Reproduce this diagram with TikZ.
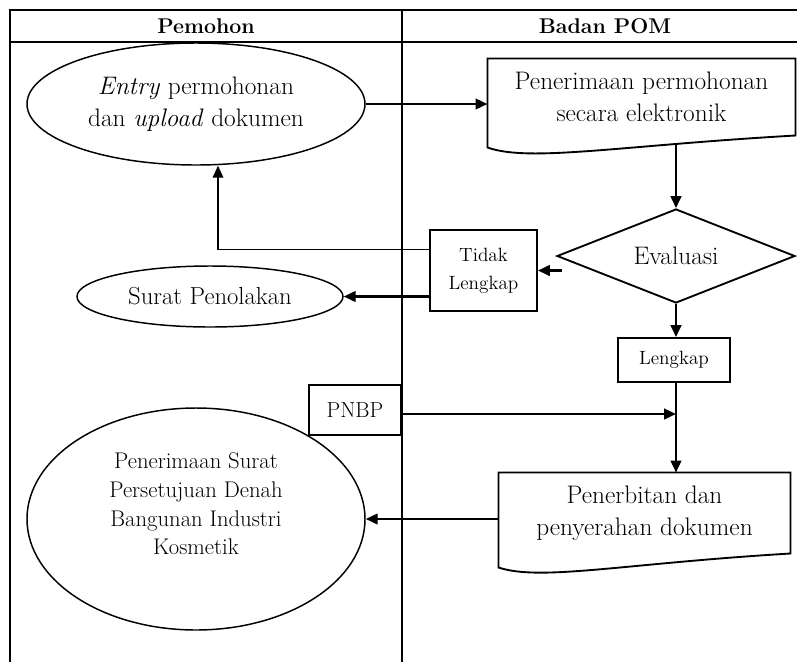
\documentclass[tikz,border=0pt]{standalone}
\usetikzlibrary{shapes.geometric,arrows.meta,calc}

\tikzset{every picture/.style={line width=0.75pt}}
\tikzset{
  teks/.style={font=\fontsize{19}{24}\selectfont, align=center},
  tekssedang/.style={font=\fontsize{17}{21.5}\selectfont, align=center},
  tekskecil/.style={font=\fontsize{14.4}{21}\selectfont, align=center},
  judul/.style={font=\bfseries\fontsize{16}{18}\selectfont},
  oval/.style={draw, ellipse, line width=1.1pt, inner sep=0pt},
  kotak/.style={draw, rectangle, line width=1.4pt, inner sep=0pt},
  dok/.style={rectangle, inner sep=0pt, teks},
  belah/.style={draw, diamond, line width=1.4pt, inner sep=0pt, aspect=2.5},
  panah/.style={line width=1.8pt, -{Triangle[length=9pt,width=8pt]}},
  panahtipis/.style={line width=1.2pt, -{Triangle[length=9pt,width=8pt]}},
  garis/.style={line width=1pt},
}

\begin{document}
\begin{tikzpicture}[x=0.75pt,y=0.75pt,yscale=-1,xscale=1]
\useasboundingbox (0,0) rectangle (797,662);

%Lanes
\draw [garis] (10,662) -- (10,10) -- (797,10) ;
\draw [garis] (10,42) -- (797,42) ;
\draw [garis] (402,10) -- (402,662) ;
% Text Node
\node [judul] (pemohon) at (206,26) {Pemohon};
% Text Node
\node [judul] (bpom) at (605,26) {Badan POM};

%Shape: Ellipse
\node [oval, teks, minimum width=253.5pt, minimum height=91.5pt] (entry) at (196,104) {\textit{Entry} permohonan\\dan \textit{upload} dokumen};
%Shape: Document
\node [dok, minimum width=230.25pt, minimum height=57pt] (recv) at (641.5,97) {Penerimaan permohonan\\secara elektronik};
\draw [line width=1.4pt] (recv.north west) -- (recv.north east) -- (recv.south east) .. controls ($(recv.south west)+(132,10)$) and ($(recv.south west)+(42,27)$) .. ($(recv.south west)+(0,12)$) -- cycle ;
%Shape: Diamond
\node [belah, font=\fontsize{19}{22}\selectfont, minimum width=178.5pt, minimum height=70.5pt] (eval) at (676,256) {Evaluasi};
%Shape: Rectangle
\node [kotak, tekskecil, minimum width=80.25pt, minimum height=60.75pt] (tidak) at (483.5,270.5) {Tidak\\Lengkap};
%Shape: Ellipse
\node [oval, font=\fontsize{18.5}{22}\selectfont, minimum width=199.5pt, minimum height=45.75pt] (tolak) at (210,296.5) {Surat Penolakan};
%Shape: Rectangle
\node [kotak, tekskecil, minimum width=84pt, minimum height=33pt] (lengkap) at (674,360) {Lengkap};
%Shape: Rectangle
\node [kotak, font=\fontsize{16.3}{18}\selectfont, minimum width=69pt, minimum height=37.5pt] (pnbp) at (355,410) {PNBP};
%Shape: Document
\node [dok, minimum width=218.25pt, minimum height=60pt] (terbit) at (644.5,513) {Penerbitan dan\\penyerahan dokumen};
\draw [line width=1.4pt] (terbit.north west) -- (terbit.north east) -- (terbit.south east) .. controls ($(terbit.south west)+(125,10)$) and ($(terbit.south west)+(42,28)$) .. ($(terbit.south west)+(0,14)$) -- cycle ;
%Shape: Ellipse
\node [oval, minimum width=253.5pt, minimum height=166.5pt] (terima) at (196,519) {};
% Text Node
\node [tekssedang] (terimateks) at (196,504) {Penerimaan Surat\\Persetujuan Denah\\Bangunan Industri\\Kosmetik};

%Straight Lines
\draw [panah] (entry.east) -- (entry.east -| recv.west) ;
\draw [panah] ($(eval.north |- recv.south)+(0,9)$) -- (eval.north) ;
\coordinate (evalkiri) at (562,270.5) ;
\draw [panah] (evalkiri) -- (tidak.east) ;
\draw [panahtipis] ($(tidak.west)+(0,-21)$) -| ($(entry.south)+(22,0)$) ;
\draw [panah] ($(tidak.west)+(0,26)$) -- (tolak.east) ;
\draw [panah] (eval.south) -- (eval.south |- lengkap.north) ;
\draw [panah] (eval.south |- lengkap.south) -- (eval.south |- terbit.north) ;
\draw [panah] ($(pnbp.east)+(0,4)$) -- ($(pnbp.east -| eval.south)+(0,4)$) ;
\draw [panah] (terbit.west |- terima.east) -- (terima.east) ;

\end{tikzpicture}
\end{document}
